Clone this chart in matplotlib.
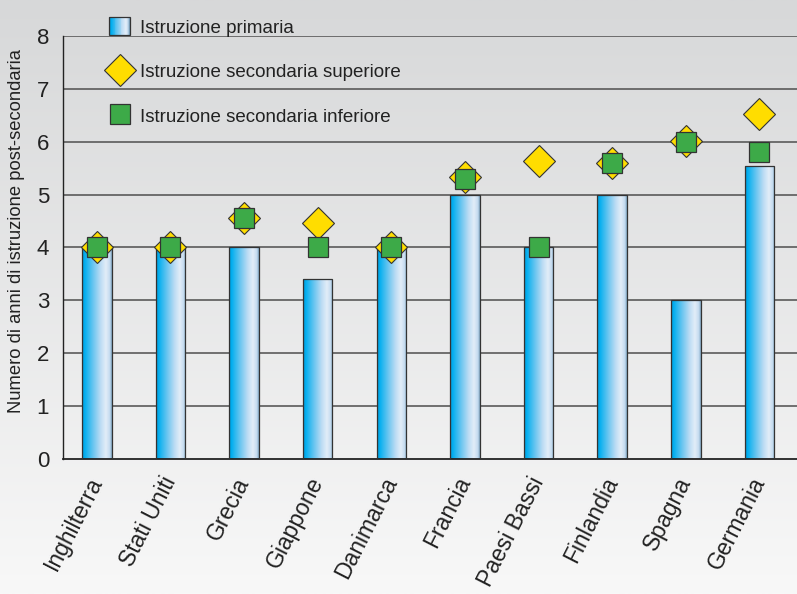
# Anni di istruzione post-secondaria per paese

import matplotlib.pyplot as plt
import numpy as np
from matplotlib.colors import LinearSegmentedColormap
from matplotlib.legend_handler import HandlerBase
from matplotlib.lines import Line2D
from matplotlib.patches import Rectangle, Patch

paesi = ['Inghilterra', 'Stati Uniti', 'Grecia', 'Giappone', 'Danimarca',
         'Francia', 'Paesi Bassi', 'Finlandia', 'Spagna', 'Germania']
primaria = [4, 4, 4, 3.4, 4, 5, 4, 5, 3, 5.55]
sec_superiore = [4, 4, 4.55, 4.47, 4, 5.33, 5.63, 5.6, 6.02, 6.53]
sec_inferiore = [4, 4, 4.55, 4, 4, 5.3, 4, 5.6, 6, 5.8]
yticks = [0, 1, 2, 3, 4, 5, 6, 7, 8]

plt.rcParams['font.family'] = ['Liberation Sans', 'DejaVu Sans']

# sfumatura orizzontale delle colonne
blu = LinearSegmentedColormap.from_list('blu', [
    (0.0, '#0a8fc8'), (0.08, '#00aeef'), (0.35, '#62c4f0'),
    (0.62, '#bcdcf4'), (0.8, '#e2edf8'), (0.93, '#c4dbef'), (1.0, '#7fa6c4')])


class GradientHandler(HandlerBase):
    def create_artists(self, legend, orig_handle, xdescent, ydescent,
                       width, height, fontsize, trans):
        n = 24
        arts = []
        for i in range(n):
            arts.append(Rectangle((-xdescent + i * width / n, -ydescent), width / n, height,
                                  facecolor=blu(i / (n - 1)), edgecolor='none', transform=trans))
        arts.append(Rectangle((-xdescent, -ydescent), width, height, facecolor='none',
                              edgecolor='#333333', linewidth=0.9, transform=trans))
        return arts


fig = plt.figure(figsize=(7.97, 5.94), dpi=100)

# sfondo grigio sfumato verso il bianco
bg = fig.add_axes([0, 0, 1, 1], zorder=-10)
bg.imshow(np.linspace(0, 1, 256).reshape(-1, 1),
          cmap=LinearSegmentedColormap.from_list('bg', ['#d7d8d9', '#f8f8f8']),
          aspect='auto', extent=[0, 1, 0, 1])
bg.axis('off')

ax = fig.add_axes([0.079, 0.2273, 0.921, 0.7121])
ax.patch.set_alpha(0)

x = np.arange(len(paesi))
larghezza = 0.4
bars = ax.bar(x, primaria, width=larghezza, facecolor='none', edgecolor='#333333',
              linewidth=0.9, zorder=3)
grad = np.linspace(0, 1, 256).reshape(1, -1)
for b in bars:
    im = ax.imshow(grad, cmap=blu, aspect='auto', zorder=2,
                   extent=[b.get_x(), b.get_x() + b.get_width(), 0, b.get_height()])
    im.set_clip_path(b)

ax.plot(x, sec_superiore, linestyle='none', marker='D', markersize=16.3,
        markerfacecolor='#ffdd00', markeredgecolor='#333333', markeredgewidth=0.8, zorder=4)
ax.plot(x, sec_inferiore, linestyle='none', marker='s', markersize=15,
        markerfacecolor='#3daa48', markeredgecolor='#333333', markeredgewidth=0.9, zorder=5)

ax.set_xlim(-0.46, 9.51)
ax.set_ylim(0, 8)
ax.set_yticks(yticks)
ax.set_yticklabels([str(v) for v in yticks], fontsize=16, color='#222222')
ax.set_xticks(x)
ax.set_xticklabels(paesi, rotation=63, ha='right', va='center', rotation_mode='anchor',
                   fontsize=16.5, color='#222222')
ax.tick_params(axis='both', length=0)
ax.tick_params(axis='y', pad=10)
ax.tick_params(axis='x', pad=14)

for v in yticks[1:]:
    ax.axhline(v, color='#5a5a5a', linewidth=1.2, zorder=1)

for s in ['top', 'right']:
    ax.spines[s].set_visible(False)
ax.spines['left'].set_color('#222222')
ax.spines['bottom'].set_color('#222222')
ax.spines['left'].set_linewidth(1.0)
ax.spines['bottom'].set_linewidth(1.3)

ax.set_ylabel('Numero di anni di istruzione post-secondaria', fontsize=13.2, color='#222222')
ax.yaxis.set_label_coords(-0.052, 0.54)

handles = [
    Patch(label='Istruzione primaria'),
    Line2D([], [], linestyle='none', marker='D', markersize=16.3, markerfacecolor='#ffdd00',
           markeredgecolor='#333333', markeredgewidth=0.8, label='Istruzione secondaria superiore'),
    Line2D([], [], linestyle='none', marker='s', markersize=15, markerfacecolor='#3daa48',
           markeredgecolor='#333333', markeredgewidth=0.9, label='Istruzione secondaria inferiore'),
]
fig.legend(handles=handles, handler_map={Patch: GradientHandler()},
           loc='upper left', bbox_to_anchor=(100 / 797, 1 - 8 / 594), frameon=False,
           fontsize=13.5, labelspacing=1.35, handlelength=1.1, handleheight=1.1,
           handletextpad=0.55, borderpad=0, labelcolor='#222222')

plt.savefig('out.png', dpi=100)
